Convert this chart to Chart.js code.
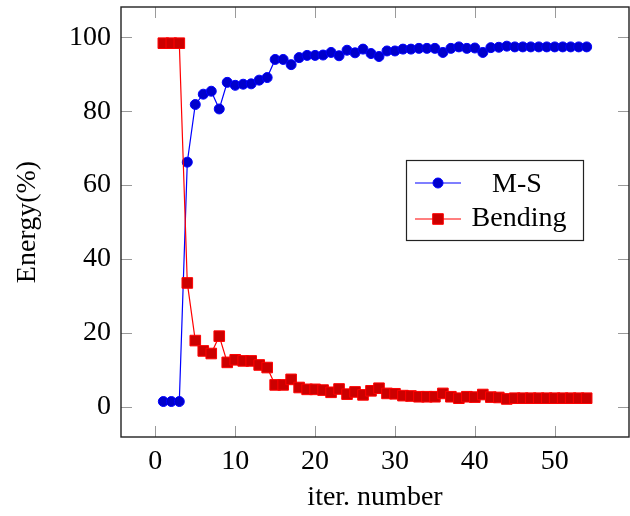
<!DOCTYPE html>
<html>
<head>
<meta charset="utf-8">
<script src="https://cdn.jsdelivr.net/npm/chart.js@4/dist/chart.umd.min.js"></script>
<style>
  html, body { margin: 0; padding: 0; background: #fff; }
  #wrap { width: 630px; height: 516px; }
</style>
</head>
<body>
<div id="wrap"><canvas id="c" width="630" height="516"></canvas></div>
<script>
const iterations = [1,2,3,4,5,6,7,8,9,10,11,12,13,14,15,16,17,18,19,20,21,22,23,24,25,26,27,
  28,29,30,31,32,33,34,35,36,37,38,39,40,41,42,43,44,45,46,47,48,49,50,51,52,53,54];
const msEnergy = [1.4,1.4,1.4,66.2,81.8,84.6,85.4,80.6,87.8,87.0,87.3,87.4,88.4,89.1,94.0,94.0,92.6,94.5,
  95.1,95.1,95.2,95.9,95.0,96.5,95.8,96.8,95.6,94.8,96.3,96.3,96.8,96.8,97.0,97.0,97.0,95.9,97.0,97.4,
  97.0,97.1,95.9,97.2,97.3,97.6,97.4,97.4,97.4,97.4,97.4,97.4,97.4,97.4,97.4,97.4];
const bendingEnergy = [98.4,98.4,98.4,33.5,17.9,15.1,14.4,19.1,12.0,12.7,12.4,12.4,11.3,10.6,5.9,5.9,7.4,5.2,
  4.7,4.7,4.5,3.9,4.8,3.4,4.0,3.2,4.3,5.0,3.6,3.5,3.0,2.9,2.7,2.7,2.7,3.6,2.7,2.3,2.7,2.6,3.3,2.6,2.5,2.1,
  2.3,2.3,2.3,2.3,2.3,2.3,2.3,2.3,2.3,2.3];
const xTicks = [0,10,20,30,40,50];
const yTicks = [0,20,40,60,80,100];
const seriesNames = ['M-S', 'Bending'];
const xTitle = 'iter. number';
const yTitle = 'Energy(%)';

const FONT = "'Liberation Serif', 'Times New Roman', serif";

function zeroPad(s) { s.paddingTop = 0; s.paddingBottom = 0; s.paddingLeft = 0; s.paddingRight = 0; }

const framePlugin = {
  id: 'frame',
  beforeDatasetsDraw(chart) {
    const {ctx, chartArea: a, scales} = chart;
    ctx.save();
    ctx.strokeStyle = '#9a9a9a';
    ctx.lineWidth = 1;
    const tl = 11;
    yTicks.forEach(v => {
      const y = Math.round(scales.y.getPixelForValue(v)) + 0.5;
      ctx.beginPath();
      ctx.moveTo(a.left, y); ctx.lineTo(a.left + tl, y);
      ctx.moveTo(a.right, y); ctx.lineTo(a.right - tl, y);
      ctx.stroke();
    });
    xTicks.forEach(v => {
      const x = Math.round(scales.x.getPixelForValue(v)) + 0.5;
      ctx.beginPath();
      ctx.moveTo(x, a.bottom); ctx.lineTo(x, a.bottom - tl);
      ctx.moveTo(x, a.top); ctx.lineTo(x, a.top + tl);
      ctx.stroke();
    });
    ctx.strokeStyle = '#222';
    ctx.lineWidth = 1.4;
    ctx.strokeRect(a.left, a.top, a.right - a.left, a.bottom - a.top);
    ctx.restore();
  },
  afterDatasetsDraw(chart) {
    const {ctx} = chart;
    ctx.save();
    const bx = 406.5, by = 160.5, bw = 177, bh = 80;
    ctx.fillStyle = '#fff';
    ctx.fillRect(bx, by, bw, bh);
    ctx.strokeStyle = '#222';
    ctx.lineWidth = 1.2;
    ctx.strokeRect(bx, by, bw, bh);
    const rows = [
      {name: seriesNames[0], y: 183, line: '#0000ff', fill: '#0000cc', shape: 'circle', baseline: 191.5, cx: 517},
      {name: seriesNames[1], y: 219, line: '#ff0000', fill: '#cc0000', shape: 'rect', baseline: 226, cx: 519}
    ];
    rows.forEach(r => {
      ctx.strokeStyle = r.line;
      ctx.lineWidth = 1.2;
      ctx.beginPath();
      ctx.moveTo(415, r.y); ctx.lineTo(461, r.y);
      ctx.stroke();
      ctx.fillStyle = r.fill;
      ctx.strokeStyle = r.line;
      ctx.lineWidth = 1;
      ctx.beginPath();
      if (r.shape === 'circle') ctx.arc(438, r.y, 5, 0, Math.PI * 2);
      else ctx.rect(438 - 5.3, r.y - 5.3, 10.6, 10.6);
      ctx.fill(); ctx.stroke();
      ctx.fillStyle = '#000';
      ctx.font = '28px ' + FONT;
      ctx.textAlign = 'center';
      ctx.textBaseline = 'alphabetic';
      ctx.fillText(r.name, r.cx, r.baseline);
    });
    ctx.restore();
  }
};

new Chart(document.getElementById('c'), {
  type: 'line',
  data: {
    datasets: [
      {
        label: seriesNames[0],
        data: iterations.map((x, i) => ({x, y: msEnergy[i]})),
        borderColor: '#0000ff',
        backgroundColor: '#0000cc',
        pointBackgroundColor: '#0000cc',
        pointBorderColor: '#0000ff',
        borderWidth: 1.2,
        pointRadius: 5,
        pointBorderWidth: 1,
        pointStyle: 'circle',
        tension: 0,
        order: 1
      },
      {
        label: seriesNames[1],
        data: iterations.map((x, i) => ({x, y: bendingEnergy[i]})),
        borderColor: '#ff0000',
        backgroundColor: '#cc0000',
        pointBackgroundColor: '#cc0000',
        pointBorderColor: '#ff0000',
        borderWidth: 1.2,
        pointRadius: 7.5,
        pointBorderWidth: 1,
        pointStyle: 'rect',
        tension: 0,
        order: 0
      }
    ]
  },
  options: {
    responsive: false,
    animation: false,
    devicePixelRatio: 1,
    layout: { autoPadding: false, padding: { top: 7, right: 1, left: 0, bottom: 0 } },
    plugins: { legend: { display: false }, tooltip: { enabled: false } },
    scales: {
      x: {
        type: 'linear',
        min: -4.3, max: 59.3,
        afterFit(s) { s.height = 79; zeroPad(s); },
        afterBuildTicks(s) { s.ticks = xTicks.map(v => ({value: v})); },
        grid: { display: false, drawTicks: false },
        border: { display: false },
        ticks: { color: '#000', font: { family: FONT, size: 28 }, padding: 8, maxRotation: 0 },
        title: { display: true, text: xTitle, color: '#000', font: { family: FONT, size: 28, lineHeight: 1.2 }, padding: { top: 0, bottom: 2 } }
      },
      y: {
        type: 'linear',
        min: -8.2, max: 108.2,
        afterFit(s) { s.width = 121; zeroPad(s); },
        afterBuildTicks(s) { s.ticks = yTicks.map(v => ({value: v})); },
        grid: { display: false, drawTicks: false },
        border: { display: false },
        ticks: { color: '#000', font: { family: FONT, size: 28 }, padding: 10 },
        title: { display: true, text: yTitle, color: '#000', font: { family: FONT, size: 28, lineHeight: 1.2 }, padding: { top: 11, bottom: 0 } }
      }
    }
  },
  plugins: [framePlugin]
});
</script>
</body>
</html>
